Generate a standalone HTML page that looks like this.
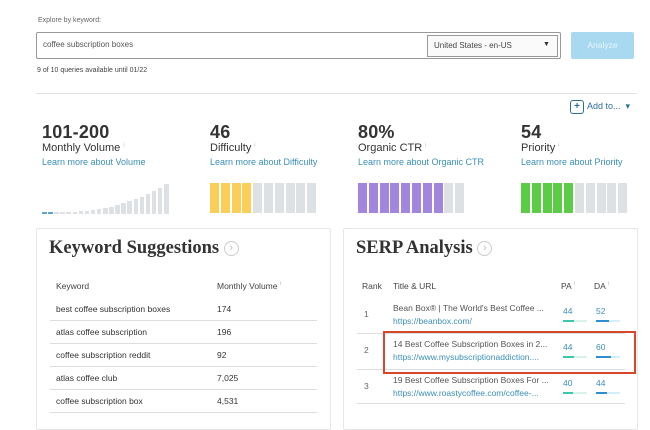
<!DOCTYPE html><html><head><style>
body{margin:0;width:650px;height:415px;background:#fff;font-family:"Liberation Sans",sans-serif;position:relative;overflow:hidden;color:#333}
.a{position:absolute;white-space:nowrap}
.big{font-size:18px;font-weight:bold;color:#333;letter-spacing:0.2px}
.lbl{font-size:11px;color:#333}
.lnk{font-size:9px;color:#3a8fb7}
.s{font-size:8.5px;color:#333}
.seg{position:absolute;top:183px;height:30px;width:9px}
.card{position:absolute;top:228px;height:200px;border:1px solid #e6e6e6;border-radius:2px}
.ttl{font-family:"Liberation Serif",serif;font-weight:bold;font-size:18.5px;color:#333}
.hl{position:absolute;height:1px;background:#ddd}
.bar{position:absolute;height:2px}
</style></head><body>
<div class="a" style="left:38px;top:17px;font-size:7px;color:#666">Explore by keyword:</div>
<div class="a" style="left:36px;top:32px;width:523px;height:25px;border:1px solid #999;border-radius:2px"></div>
<div class="a" style="left:43px;top:40px;font-size:8px;color:#555">coffee subscription boxes</div>
<div class="a" style="left:427px;top:35px;width:129px;height:20px;border:1px solid #999;background:#fafafa"></div>
<div class="a" style="left:434px;top:41px;font-size:8px;color:#444">United States - en-US</div>
<div class="a" style="left:543px;top:41px;font-size:7px">▼</div>
<div class="a" style="left:571px;top:32px;width:63px;height:27px;background:#a9d9f1;border-radius:2px;color:#e6f5fc;font-size:8.5px;text-align:center;line-height:27px">Analyze</div>
<div class="a" style="left:37px;top:67px;font-size:7px;color:#444">9 of 10 queries available until 01/22</div>
<div class="a" style="left:36px;top:93px;width:601px;height:1px;background:#e2e2e2"></div>
<div class="a" style="left:570px;top:100px;width:12px;height:12px;border:1px solid #2b6f99;border-radius:3px;font-size:10px;line-height:12px;text-align:center;color:#2b6f99;font-weight:bold">+</div>
<div class="a" style="left:587px;top:101px;font-size:9px;color:#2b6f99">Add to... &nbsp;▾</div>

<div class="a big" style="left:42px;top:122px">101-200</div>
<div class="a lbl" style="left:42px;top:142px">Monthly Volume <sup style="font-size:5px;color:#aaa">i</sup></div>
<div class="a lnk" style="left:42px;top:157px">Learn more about Volume</div>
<div class="a big" style="left:210px;top:122px">46</div>
<div class="a lbl" style="left:210px;top:142px">Difficulty <sup style="font-size:5px;color:#aaa">i</sup></div>
<div class="a lnk" style="left:210px;top:157px">Learn more about Difficulty</div>
<div class="a big" style="left:358px;top:122px">80%</div>
<div class="a lbl" style="left:358px;top:142px">Organic CTR <sup style="font-size:5px;color:#aaa">i</sup></div>
<div class="a lnk" style="left:358px;top:157px">Learn more about Organic CTR</div>
<div class="a big" style="left:521px;top:122px">54</div>
<div class="a lbl" style="left:521px;top:142px">Priority <sup style="font-size:5px;color:#aaa">i</sup></div>
<div class="a lnk" style="left:521px;top:157px">Learn more about Priority</div>
<div id="bars"></div>

<div class="card" style="left:36px;width:293px"></div>
<div class="card" style="left:343px;width:293px"></div>
<div class="a ttl" style="left:49px;top:238px">Keyword Suggestions <span style="font-family:'Liberation Sans';font-weight:normal;font-size:11px;color:#bbb;border:1px solid #ccc;border-radius:50%;display:inline-block;width:13px;height:13px;line-height:13px;text-align:center;vertical-align:2px">›</span></div>
<div class="a ttl" style="left:356px;top:238px">SERP Analysis <span style="font-family:'Liberation Sans';font-weight:normal;font-size:11px;color:#bbb;border:1px solid #ccc;border-radius:50%;display:inline-block;width:13px;height:13px;line-height:13px;text-align:center;vertical-align:2px">›</span></div>

<div class="a s" style="left:56px;top:281px;color:#444">Keyword</div>
<div class="a s" style="left:217px;top:281px;color:#444">Monthly Volume <sup style="font-size:5px;color:#aaa">i</sup></div>
<div class="a s" style="left:56px;top:304px">best coffee subscription boxes</div><div class="a s" style="left:217px;top:304px">174</div>
<div class="hl" style="left:50px;top:320px;width:267px"></div>
<div class="a s" style="left:56px;top:327px">atlas coffee subscription</div><div class="a s" style="left:217px;top:327px">196</div>
<div class="hl" style="left:50px;top:343px;width:267px"></div>
<div class="a s" style="left:56px;top:350px">coffee subscription reddit</div><div class="a s" style="left:217px;top:350px">92</div>
<div class="hl" style="left:50px;top:366px;width:267px"></div>
<div class="a s" style="left:56px;top:373px">atlas coffee club</div><div class="a s" style="left:217px;top:373px">7,025</div>
<div class="hl" style="left:50px;top:389px;width:267px"></div>
<div class="a s" style="left:56px;top:396px">coffee subscription box</div><div class="a s" style="left:217px;top:396px">4,531</div>
<div class="hl" style="left:50px;top:412px;width:267px"></div>

<div class="a s" style="left:362px;top:281px;color:#444">Rank</div>
<div class="a s" style="left:393px;top:281px;color:#444">Title &amp; URL</div>
<div class="a s" style="left:561px;top:281px;color:#444">PA <sup style="font-size:5px;color:#aaa">i</sup></div>
<div class="a s" style="left:594px;top:281px;color:#444">DA <sup style="font-size:5px;color:#aaa">i</sup></div>

<div class="a s" style="left:364px;top:309px;color:#666">1</div>
<div class="a s" style="left:393px;top:303px;color:#555">Bean Box® | The World's Best Coffee ...</div>
<div class="a s" style="left:393px;top:316px;color:#3a8fb7">https://beanbox.com/</div>
<div class="a s" style="left:563px;top:306px;color:#3a8fb7">44</div><div class="a s" style="left:596px;top:306px;color:#3a8fb7">52</div>
<div class="hl" style="left:357px;top:333px;width:268px"></div>
<div class="a s" style="left:364px;top:345px;color:#666">2</div>
<div class="a s" style="left:393px;top:339px;color:#555">14 Best Coffee Subscription Boxes in 2...</div>
<div class="a s" style="left:393px;top:352px;color:#3a8fb7">https://www.mysubscriptionaddiction....</div>
<div class="a s" style="left:563px;top:342px;color:#3a8fb7">44</div><div class="a s" style="left:596px;top:342px;color:#3a8fb7">60</div>
<div class="hl" style="left:357px;top:369px;width:268px"></div>
<div class="a s" style="left:364px;top:381px;color:#666">3</div>
<div class="a s" style="left:393px;top:375px;color:#555">19 Best Coffee Subscription Boxes For ...</div>
<div class="a s" style="left:393px;top:388px;color:#3a8fb7">https://www.roastycoffee.com/coffee-...</div>
<div class="a s" style="left:563px;top:378px;color:#3a8fb7">40</div><div class="a s" style="left:596px;top:378px;color:#3a8fb7">44</div>
<div class="hl" style="left:357px;top:403px;width:268px"></div>

<div class="bar" style="left:563px;top:320px;width:24px;background:#d8f3ee"></div><div class="bar" style="left:563px;top:320px;width:11px;background:#3cc7a8"></div>
<div class="bar" style="left:596px;top:320px;width:24px;background:#d6ecf8"></div><div class="bar" style="left:596px;top:320px;width:13px;background:#2d8fcf"></div>
<div class="bar" style="left:563px;top:356px;width:24px;background:#d8f3ee"></div><div class="bar" style="left:563px;top:356px;width:11px;background:#3cc7a8"></div>
<div class="bar" style="left:596px;top:356px;width:24px;background:#d6ecf8"></div><div class="bar" style="left:596px;top:356px;width:15px;background:#2d8fcf"></div>
<div class="bar" style="left:563px;top:392px;width:24px;background:#d8f3ee"></div><div class="bar" style="left:563px;top:392px;width:10px;background:#3cc7a8"></div>
<div class="bar" style="left:596px;top:392px;width:24px;background:#d6ecf8"></div><div class="bar" style="left:596px;top:392px;width:11px;background:#2d8fcf"></div>

<div class="a" style="left:383px;top:331px;width:249px;height:39px;border:2px solid #d9472b"></div>
<script>
var h='';
for(var i=0;i<21;i++){var x=42+i*6.1;var ht=Math.max(2,Math.round(1.5+Math.pow(i/20,2.6)*28));var c=i<2?'#5aa8d0':'#dde1e3';h+='<div style="position:absolute;left:'+x.toFixed(1)+'px;top:'+(214-ht)+'px;width:4.5px;height:'+ht+'px;background:'+c+'"></div>';}
function seg(x0,n,col){for(var i=0;i<10;i++){h+='<div class="seg" style="left:'+(x0+i*10.8).toFixed(1)+'px;background:'+(i<n?col:'#dde1e3')+'"></div>';}}
seg(210,4,'#f9cf5a');seg(358,8,'#a285dc');seg(521,5,'#5ccb45');
document.getElementById('bars').innerHTML=h;
</script>
</body></html>
